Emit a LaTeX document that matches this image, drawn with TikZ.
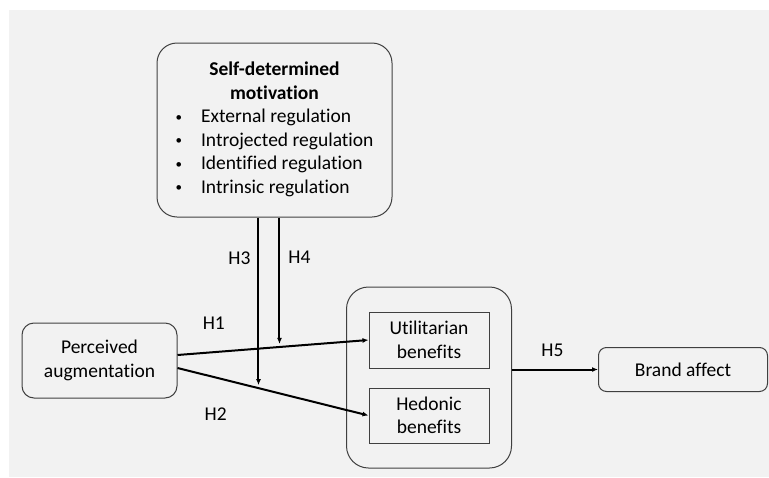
\documentclass[tikz,border=0pt]{standalone}
\usepackage{fontspec}
\setmainfont{Carlito}[Ligatures={NoCommon,NoRare}]
\usetikzlibrary{positioning,fit,arrows.meta}
\definecolor{bggrey}{HTML}{F2F2F2}
\definecolor{boxline}{HTML}{404040}
\newcommand{\smallbul}{\raisebox{1.5pt}{\fontsize{13}{13}\selectfont\textbullet}}

\begin{document}
\begin{tikzpicture}[
        x=1pt, y=-1pt,
        every node/.style={font=\fontsize{19.5}{23.5}\selectfont},
        roundbox/.style={
                rectangle,
                rounded corners=12pt,
                draw=boxline,
                line width=1pt,
                align=center,
                inner sep=0pt
            },
        plainbox/.style={
                rectangle,
                draw=boxline,
                line width=1pt,
                align=center,
                inner sep=0pt,
                minimum width=120pt
            },
        lbl/.style={inner sep=0pt},
        link/.style={->, line width=2pt},
        >={Latex[length=6pt,width=5pt]}
    ]
    \useasboundingbox (0,0) rectangle (769,477);
    \fill[white] (0,0) rectangle (769,477);
    \fill[bggrey] (9,10) rectangle (769,477);

    \node[roundbox, rounded corners=20pt, minimum width=235pt, minimum height=174pt] (Motiv) at (274.5,130) {%
        \begin{tabular}{@{}c@{}}
            \textbf{Self-determined}\\
            \textbf{motivation}\\
            \begin{tabular}[t]{@{}l@{\hspace{19pt}}l@{}}
                \smallbul & External regulation\\
                \smallbul & Introjected regulation\\
                \smallbul & Identified regulation\\
                \smallbul & Intrinsic regulation
            \end{tabular}
        \end{tabular}};
    \node[roundbox, minimum width=155pt, minimum height=75pt] (Percv) [below left=105pt and -21pt of Motiv] {Perceived\\augmentation};
    \node[plainbox, minimum height=56pt] (Util) [right=191pt of Percv, yshift=20.5pt] {Utilitarian\\benefits};
    \node[plainbox, minimum height=55pt] (Hedon) [below=19pt of Util] {Hedonic\\benefits};

    \node[roundbox, rounded corners=22pt, fit={(Util)(Hedon)}, inner xsep=22pt, inner ysep=24.5pt] (Benefits) {};
    \node[roundbox, rounded corners=8pt, minimum width=169pt, minimum height=44pt] (Brand) [right=86pt of Benefits, yshift=8pt] {Brand affect};

    \draw[link] ([yshift=5.5pt]Percv.east) -- coordinate[pos=0.534] (OnH1) node[lbl, pos=0.19, above=21.8pt] (LabH1) {H1} (Util.west);
    \draw[link] ([yshift=-7.5pt]Percv.east) -- coordinate[pos=0.424] (OnH2) node[lbl, pos=0.2, below=29.7pt] (LabH2) {H2} (Hedon.west);
    \draw[link, shorten >=3pt] (OnH2 |- Motiv.south) -- node[lbl, pos=0.236, left=7pt] (LabH3) {H3} (OnH2);
    \draw[link, shorten >=3pt] (OnH1 |- Motiv.south) -- node[lbl, pos=0.31, right=8pt] (LabH4) {H4} (OnH1);
    \draw[link] (Benefits.east |- Brand.west) -- node[lbl, pos=0.47, above=12pt] (LabH5) {H5} (Brand.west);
\end{tikzpicture}
\end{document}
